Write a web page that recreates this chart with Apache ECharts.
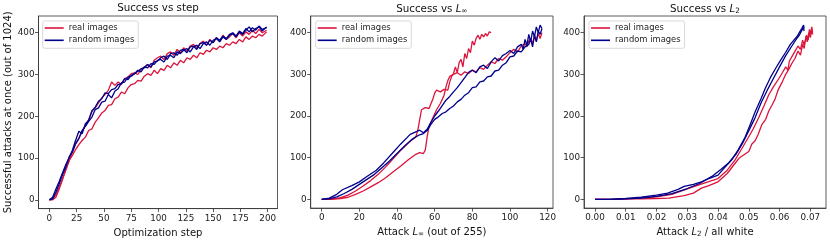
<!DOCTYPE html>
<html><head><meta charset="utf-8">
<script src="https://cdn.jsdelivr.net/npm/echarts@6.0.0/dist/echarts.min.js"></script>
<style>html,body{margin:0;padding:0;background:#fff}#c{width:830px;height:243px}</style>
</head><body><div id="c"></div>
<script>
// ---------- data ----------
const seriesNames = ['real images', 'random images'];
const stepTicks = [0, 25, 50, 75, 100, 125, 150, 175, 200];
const linfTicks = [0, 20, 40, 60, 80, 100, 120];
const l2Ticks = [0, 0.01, 0.02, 0.03, 0.04, 0.05, 0.06, 0.07];
const yTicks = [0, 100, 200, 300, 400];

// Panel 1: success vs optimization step
const steps = [0,3,6,9,12,15,18,21,24,27,30,33,36,39,42,45,48,51,54,57,60,63,66,69,72,75,78,81,84,87,90,93,96,99,102,105,108,111,114,117,120,123,126,129,132,135,138,141,144,147,150,153,156,159,162,165,168,171,174,177,180,183,186,189,192,195,199];
const stepReal1 = [0,2,12,30,50,70,94,106,120,132,142,150,166,170,186,196,208,214,226,228,242,246,258,254,268,276,278,286,284,296,302,298,310,302,314,310,322,316,328,322,334,328,340,336,346,340,352,348,358,354,364,360,368,364,374,370,378,374,384,378,390,384,392,388,396,392,402];
const stepReal2 = [0,0,6,26,48,74,92,114,134,148,164,178,192,214,220,232,244,252,262,282,274,282,276,290,294,302,304,300,312,318,324,316,334,340,344,336,350,354,346,360,352,364,356,368,372,364,374,380,370,384,376,388,380,394,384,390,398,388,400,392,402,396,406,398,408,400,406];
const stepRand1 = [0,6,26,44,64,84,100,118,142,164,158,182,190,212,222,236,242,256,254,264,266,276,278,290,288,298,302,310,306,318,316,326,324,334,336,330,344,346,340,354,350,358,362,354,366,370,362,374,378,370,382,386,378,390,384,394,398,390,402,396,406,414,402,410,414,404,414];
const stepRand2 = [0,2,18,38,60,78,102,114,134,146,166,176,188,198,216,220,234,236,252,244,260,266,280,282,294,296,302,308,314,316,324,318,330,332,340,344,336,350,352,346,358,360,352,366,368,360,374,376,370,382,376,388,382,392,386,396,400,392,404,398,410,402,412,406,416,408,412];

// Panel 2: success vs L-infinity
const linfReal1X = [0,3,6,10,14,18,22,26,30,34,38,42,46,50,51,52,53,55,57,58,59,60,61,63,65,66,67,68,69,70,71,72,73,74,75,76,77,78,79,80,81,82,83,84,85,86,87,88,89,90];
const linfReal1Y = [0,0,1,4,10,20,32,45,60,78,98,118,135,150,165,190,215,220,218,222,240,255,262,258,264,268,262,282,295,302,318,304,328,336,318,350,338,362,352,380,370,386,394,384,396,390,398,392,402,400];
const linfReal2X = [0,5,10,14,18,22,26,30,34,38,42,46,50,52,54,55,56,57,59,61,63,65,66,67,68,70,72,74,76,78,80,82,84,86,88,90,92,94,96,98,100,102,104,106,108,109,110,111,112,113,114,115,116,117];
const linfReal2Y = [0,0,2,5,12,20,30,40,52,66,80,95,108,112,110,118,150,175,195,215,230,250,270,285,295,300,304,298,306,302,310,306,316,312,322,330,326,338,334,342,352,360,354,368,374,366,380,386,374,392,380,398,386,400];
const linfRand1X = [0,4,8,11,16,20,24,29,33,38,42,47,50,52,54,56,58,60,62,64,66,68,70,72,74,76,78,80,82,84,86,88,90,92,94,96,98,100,102,104,106,107,108,109,110,111,112,113,114,115,116,117];
const linfRand1Y = [0,3,12,23,33,42,55,70,88,113,133,156,162,166,160,168,185,200,212,225,238,247,258,268,280,292,305,310,304,318,322,314,330,340,332,345,350,357,350,366,372,360,384,370,396,378,404,390,414,400,418,410];
const linfRand2X = [0,4,8,12,16,20,24,28,32,36,40,44,48,50,52,54,56,58,60,62,64,66,68,70,72,74,76,78,80,82,84,86,88,90,92,94,96,98,100,102,104,106,108,110,111,112,113,114,115,116,117];
const linfRand2Y = [0,1,6,14,24,36,48,60,76,92,110,128,144,150,155,158,165,180,192,198,206,210,218,224,234,240,250,256,268,270,282,284,294,296,308,310,322,328,342,344,356,354,366,372,384,366,394,378,404,396,410];

// Panel 3: success vs L2
const l2Real1X = [0,0.005,0.01,0.015,0.02,0.024,0.029,0.032,0.0346,0.037,0.04,0.043,0.0455,0.047,0.0488,0.05,0.051,0.052,0.053,0.0543,0.0555,0.0565,0.0576,0.0585,0.0595,0.0609,0.062,0.063,0.0642,0.065,0.066,0.0668,0.0675,0.068,0.0686,0.069,0.0695,0.07,0.0705,0.0708];
const l2Real1Y = [0,0,1,1,2,3,9,15,27,33,42,62,86,100,109,115,133,140,155,180,192,212,227,240,262,282,300,312,329,338,356,346,372,362,392,378,400,388,405,396];
const l2Real2X = [0,0.005,0.01,0.015,0.02,0.025,0.03,0.035,0.04,0.043,0.0455,0.048,0.0499,0.0515,0.0532,0.055,0.0565,0.058,0.0598,0.061,0.062,0.0627,0.0632,0.0642,0.065,0.066,0.0668,0.0675,0.068,0.0688,0.0693,0.0697,0.07,0.0705,0.0707];
const l2Real2Y = [0,0,1,3,6,12,25,38,50,70,94,125,149,170,196,225,251,270,290,305,318,310,332,345,355,368,360,382,370,394,382,408,396,414,402];
const l2Rand1X = [0,0.005,0.01,0.015,0.02,0.0236,0.027,0.029,0.032,0.0346,0.037,0.04,0.042,0.0444,0.0465,0.0488,0.0505,0.0521,0.054,0.0554,0.057,0.0587,0.06,0.062,0.0635,0.065,0.0658,0.0664,0.0672,0.0678,0.068];
const l2Rand1Y = [0,0,2,5,10,15,24,31,36,42,50,58,75,94,118,149,180,211,242,267,292,314,330,353,372,385,392,400,410,418,410];
const l2Rand2X = [0,0.005,0.01,0.015,0.02,0.025,0.03,0.034,0.038,0.041,0.0435,0.046,0.048,0.05,0.052,0.054,0.056,0.058,0.06,0.062,0.064,0.0655,0.0665,0.0672,0.0677,0.068];
const l2Rand2Y = [0,0,1,3,7,14,26,38,55,72,88,110,135,165,195,232,262,290,318,345,368,385,395,405,412,404];

// ---------- chart ----------
const RED = '#DC143C', BLUE = '#00008B';
const FONT = 'DejaVu Sans';
const zip = (xs, ys) => xs.map((x, i) => [x, ys[i]]);

const grids = [
  {left: 38.5, top: 16, width: 239, height: 196},
  {left: 310.7, top: 16, width: 242.3, height: 196},
  {left: 584, top: 16, width: 242, height: 196}
];

function xAxisFor(i, min, max, ticks, name, fmt) {
  return {
    type: 'value', gridIndex: i, min: min, max: max,
    name: name, nameLocation: 'middle', nameGap: 14,
    nameTextStyle: {fontFamily: FONT, fontSize: 10, color: '#111', rich: {
      n: {fontFamily: FONT, fontSize: 10, color: '#111'},
      i: {fontFamily: FONT, fontSize: 10, fontStyle: 'italic', color: '#111'},
      s: {fontFamily: FONT, fontSize: 7.2, color: '#111', verticalAlign: 'bottom', padding: [4, 0, 0, 0]}
    }},
    axisLine: {show: true, onZero: false, lineStyle: {color: '#333', width: 0.8}},
    axisTick: {show: true, length: 3.5, customValues: ticks, lineStyle: {color: '#333', width: 0.8}},
    axisLabel: {customValues: ticks, fontFamily: FONT, fontSize: 8.8, color: '#222', margin: 5.5,
      formatter: fmt || (v => String(v))},
    splitLine: {show: false}
  };
}
function yAxisFor(i, name) {
  return {
    type: 'value', gridIndex: i, min: -21, max: 440,
    name: name || '', nameLocation: 'middle', nameGap: 24, nameRotate: 90,
    nameTextStyle: {fontFamily: FONT, fontSize: 10, color: '#111'},
    axisLine: {show: true, onZero: false, lineStyle: {color: '#333', width: 0.8}},
    axisTick: {show: true, length: 3.5, customValues: yTicks, lineStyle: {color: '#333', width: 0.8}},
    axisLabel: {customValues: yTicks, fontFamily: FONT, fontSize: 8.8, color: '#222', margin: 4},
    splitLine: {show: false}
  };
}
function line(name, color, gi, data) {
  return {type: 'line', name: name, xAxisIndex: gi, yAxisIndex: gi, data: data,
    symbol: 'none', showSymbol: false, smooth: false, animation: false,
    lineStyle: {color: color, width: 1.3}, itemStyle: {color: color}};
}
function legendFor(left) {
  return {left: left, top: 21, orient: 'vertical', data: seriesNames, icon: 'rect',
    itemWidth: 19, itemHeight: 1.6, itemGap: 2.3, padding: [2, 4, 3, 2],
    borderColor: '#cfcfcf', borderWidth: 0.8, borderRadius: 2, backgroundColor: '#fff',
    selectedMode: false,
    textStyle: {fontFamily: FONT, fontSize: 8.4, color: '#222', lineHeight: 10}};
}
const titleRich = {
  n: {fontFamily: FONT, fontSize: 10.3, color: '#111'},
  i: {fontFamily: FONT, fontSize: 10.3, fontStyle: 'italic', color: '#111'},
  s: {fontFamily: FONT, fontSize: 7.4, color: '#111', verticalAlign: 'bottom', padding: [4, 0, 0, 0]}
};
function titleFor(g, text) {
  return {text: text, left: g.left + g.width / 2, top: 3.5, textAlign: 'center', padding: 0,
    textStyle: {fontFamily: FONT, fontSize: 10.3, fontWeight: 'normal', color: '#111', rich: titleRich}};
}

const option = {
  animation: false,
  backgroundColor: '#fff',
  title: [
    titleFor(grids[0], '{n|Success vs step}'),
    titleFor(grids[1], '{n|Success vs }{i|L}{s|∞}'),
    titleFor(grids[2], '{n|Success vs }{i|L}{s|2}')
  ],
  legend: [legendFor(42.7), legendFor(315.7), legendFor(589)],
  grid: grids.map(g => Object.assign({show: true, borderColor: '#333', borderWidth: 0.8, containLabel: false}, g)),
  xAxis: [
    xAxisFor(0, -9.95, 208.95, stepTicks, 'Optimization step'),
    xAxisFor(1, -5.85, 122.85, linfTicks, '{n|Attack }{i|L}{s|∞}{n| (out of 255)}'),
    xAxisFor(2, -0.00357, 0.0751, l2Ticks, '{n|Attack }{i|L}{s|2}{n| / all white}', v => v.toFixed(2))
  ],
  yAxis: [yAxisFor(0, 'Successful attacks at once (out of 1024)'), yAxisFor(1), yAxisFor(2)],
  series: [
    line(seriesNames[0], RED, 0, zip(steps, stepReal1)),
    line(seriesNames[0], RED, 0, zip(steps, stepReal2)),
    line(seriesNames[1], BLUE, 0, zip(steps, stepRand1)),
    line(seriesNames[1], BLUE, 0, zip(steps, stepRand2)),
    line(seriesNames[0], RED, 1, zip(linfReal1X, linfReal1Y)),
    line(seriesNames[0], RED, 1, zip(linfReal2X, linfReal2Y)),
    line(seriesNames[1], BLUE, 1, zip(linfRand1X, linfRand1Y)),
    line(seriesNames[1], BLUE, 1, zip(linfRand2X, linfRand2Y)),
    line(seriesNames[0], RED, 2, zip(l2Real1X, l2Real1Y)),
    line(seriesNames[0], RED, 2, zip(l2Real2X, l2Real2Y)),
    line(seriesNames[1], BLUE, 2, zip(l2Rand1X, l2Rand1Y)),
    line(seriesNames[1], BLUE, 2, zip(l2Rand2X, l2Rand2Y))
  ]
};
const chart = echarts.init(document.getElementById('c'), null, {renderer: 'canvas'});
chart.setOption(option);
</script>
</body></html>
